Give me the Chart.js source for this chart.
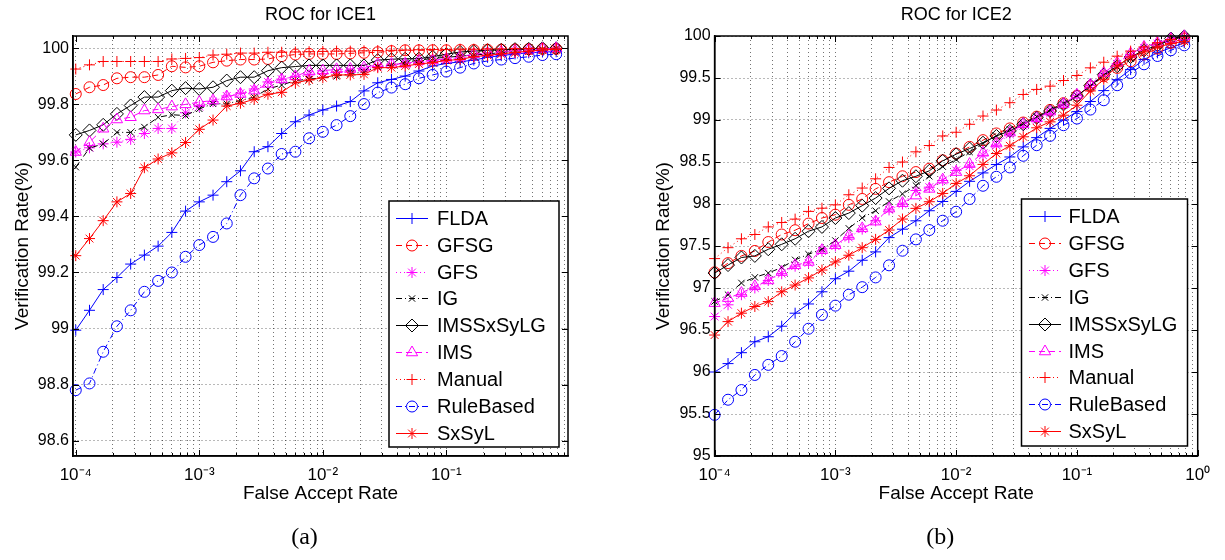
<!DOCTYPE html>
<html>
<head>
<meta charset="utf-8">
<script src="https://cdn.jsdelivr.net/npm/chart.js@4.4.1/dist/chart.umd.min.js"></script>
<style>
  html, body { margin: 0; padding: 0; background: #ffffff; }
  #wrap { position: relative; width: 1225px; height: 560px; background: #ffffff; }
  #c1 { position: absolute; left: 0; top: 0; }
  #c2 { position: absolute; left: 612px; top: 0; }
</style>
</head>
<body>
<div id="wrap">
  <canvas id="c1" width="612" height="560"></canvas>
  <canvas id="c2" width="613" height="560"></canvas>
</div>
<script>
// ---------------- data ----------------
const FAR = [
  1.000e-4, 1.292e-4, 1.668e-4, 2.154e-4, 2.783e-4, 3.594e-4, 4.642e-4, 5.995e-4, 7.743e-4,
  1.000e-3, 1.292e-3, 1.668e-3, 2.154e-3, 2.783e-3, 3.594e-3, 4.642e-3, 5.995e-3, 7.743e-3,
  1.000e-2, 1.292e-2, 1.668e-2, 2.154e-2, 2.783e-2, 3.594e-2, 4.642e-2, 5.995e-2, 7.743e-2,
  1.000e-1, 0.1292, 0.1668, 0.2154, 0.2783, 0.3594, 0.4642, 0.5995, 0.7743
];
const SERIES = ['FLDA', 'GFSG', 'GFS', 'IG', 'IMSSxSyLG', 'IMS', 'Manual', 'RuleBased', 'SxSyL'];

// ICE1
const ice1FLDA = [98.994, 99.065, 99.139, 99.182, 99.23, 99.262, 99.294, 99.343, 99.419, 99.452, 99.476, 99.524, 99.563, 99.631, 99.649, 99.696, 99.738, 99.762, 99.78, 99.794, 99.81, 99.848, 99.877, 99.889, 99.901, 99.919, 99.937, 99.946, 99.952, 99.958, 99.968, 99.974, 99.98, 99.984, 99.987, 99.988];
const ice1GFSG = [99.837, 99.861, 99.869, 99.893, 99.897, 99.897, 99.905, 99.936, 99.932, 99.936, 99.95, 99.956, 99.96, 99.96, 99.962, 99.972, 99.978, 99.98, 99.98, 99.98, 99.982, 99.984, 99.986, 99.99, 99.993, 99.993, 99.993, 99.993, 99.994, 99.994, 99.995, 99.995, 99.996, 99.997, 99.998, 99.998];
const ice1GFS = [99.63, 99.645, 99.659, 99.665, 99.675, 99.696, 99.714, 99.714, 99.77, 99.792, 99.81, 99.83, 99.84, 99.855, 99.88, 99.89, 99.9, 99.905, 99.91, 99.915, 99.92, 99.925, 99.935, 99.94, 99.945, 99.95, 99.955, 99.96, 99.965, 99.97, 99.975, 99.98, 99.985, 99.99, 99.995, 99.998];
const ice1IG = [99.576, 99.644, 99.659, 99.7, 99.7, 99.719, 99.754, 99.763, 99.76, 99.784, 99.802, 99.802, 99.814, 99.826, 99.855, 99.869, 99.885, 99.89, 99.895, 99.9, 99.91, 99.915, 99.935, 99.94, 99.95, 99.958, 99.964, 99.968, 99.972, 99.976, 99.98, 99.985, 99.99, 99.994, 99.997, 100];
const ice1IMSSxSyLG = [99.691, 99.707, 99.727, 99.766, 99.796, 99.826, 99.826, 99.849, 99.858, 99.855, 99.861, 99.885, 99.897, 99.897, 99.92, 99.931, 99.935, 99.939, 99.939, 99.939, 99.939, 99.939, 99.958, 99.961, 99.963, 99.963, 99.97, 99.979, 99.987, 99.99, 99.993, 99.995, 99.997, 99.998, 100, 100];
const ice1IMS = [99.63, 99.665, 99.713, 99.746, 99.754, 99.778, 99.782, 99.792, 99.8, 99.808, 99.814, 99.828, 99.837, 99.849, 99.873, 99.889, 99.9, 99.919, 99.92, 99.925, 99.926, 99.931, 99.943, 99.944, 99.945, 99.955, 99.957, 99.963, 99.97, 99.979, 99.984, 99.988, 99.992, 99.995, 99.998, 100];
const ice1Manual = [99.926, 99.941, 99.953, 99.953, 99.953, 99.953, 99.953, 99.962, 99.964, 99.967, 99.976, 99.979, 99.983, 99.983, 99.986, 99.986, 99.987, 99.988, 99.989, 99.99, 99.99, 99.991, 99.992, 99.993, 99.994, 99.995, 99.996, 99.996, 99.997, 99.997, 99.998, 99.998, 99.999, 99.999, 100, 100];
const ice1RuleBased = [98.78, 98.804, 98.917, 99.008, 99.065, 99.131, 99.17, 99.2, 99.256, 99.298, 99.327, 99.375, 99.476, 99.536, 99.571, 99.623, 99.631, 99.679, 99.702, 99.726, 99.758, 99.801, 99.842, 99.86, 99.872, 99.893, 99.905, 99.917, 99.931, 99.946, 99.955, 99.96, 99.965, 99.97, 99.976, 99.979];
const ice1SxSyL = [99.26, 99.321, 99.385, 99.452, 99.482, 99.574, 99.605, 99.627, 99.664, 99.711, 99.744, 99.794, 99.804, 99.818, 99.836, 99.843, 99.877, 99.887, 99.895, 99.905, 99.905, 99.907, 99.931, 99.931, 99.937, 99.944, 99.949, 99.957, 99.96, 99.97, 99.975, 99.98, 99.985, 99.99, 99.994, 99.996];

// ICE2
const ice2FLDA = [96.0, 96.1, 96.23, 96.36, 96.42, 96.545, 96.7, 96.81, 96.955, 97.11, 97.2, 97.33, 97.43, 97.6, 97.7, 97.8, 97.92, 98.03, 98.15, 98.27, 98.37, 98.47, 98.56, 98.68, 98.79, 98.9, 99.0, 99.1, 99.22, 99.35, 99.48, 99.6, 99.72, 99.8, 99.86, 99.92];
const ice2GFSG = [97.186, 97.296, 97.382, 97.441, 97.547, 97.637, 97.688, 97.767, 97.833, 97.873, 97.99, 98.06, 98.18, 98.26, 98.33, 98.38, 98.42, 98.52, 98.6, 98.68, 98.76, 98.84, 98.9, 98.97, 99.04, 99.12, 99.2, 99.29, 99.4, 99.52, 99.62, 99.7, 99.78, 99.85, 99.92, 99.97];
const ice2GFS = [96.66, 96.8, 96.92, 97.0, 97.09, 97.17, 97.26, 97.3, 97.44, 97.5, 97.6, 97.7, 97.8, 97.93, 98.0, 98.16, 98.2, 98.28, 98.4, 98.45, 98.58, 98.7, 98.83, 98.93, 99.0, 99.08, 99.18, 99.29, 99.41, 99.55, 99.67, 99.78, 99.86, 99.91, 99.96, 99.99];
const ice2IG = [96.84, 96.92, 97.06, 97.127, 97.178, 97.245, 97.335, 97.402, 97.461, 97.565, 97.71, 97.835, 97.92, 98.03, 98.12, 98.22, 98.33, 98.445, 98.53, 98.62, 98.72, 98.81, 98.89, 98.96, 99.04, 99.12, 99.2, 99.29, 99.4, 99.53, 99.63, 99.73, 99.81, 99.88, 99.96, 99.99];
const ice2IMSSxSyLG = [97.178, 97.273, 97.363, 97.382, 97.461, 97.52, 97.586, 97.676, 97.727, 97.833, 97.892, 97.98, 98.071, 98.186, 98.277, 98.33, 98.395, 98.514, 98.593, 98.66, 98.73, 98.81, 98.87, 98.95, 99.028, 99.107, 99.186, 99.285, 99.41, 99.54, 99.64, 99.75, 99.83, 99.89, 99.97, 99.995];
const ice2IMS = [96.82, 96.88, 96.94, 97.02, 97.09, 97.19, 97.27, 97.31, 97.45, 97.51, 97.62, 97.71, 97.79, 97.945, 98.01, 98.1, 98.18, 98.29, 98.38, 98.475, 98.61, 98.72, 98.85, 98.95, 99.02, 99.1, 99.19, 99.3, 99.42, 99.56, 99.68, 99.79, 99.87, 99.92, 99.965, 99.996];
const ice2Manual = [97.35, 97.48, 97.586, 97.637, 97.727, 97.78, 97.82, 97.912, 97.95, 97.99, 98.11, 98.19, 98.3, 98.435, 98.5, 98.621, 98.696, 98.81, 98.854, 98.949, 99.047, 99.119, 99.206, 99.304, 99.364, 99.403, 99.47, 99.53, 99.621, 99.688, 99.76, 99.82, 99.87, 99.92, 99.96, 99.99];
const ice2RuleBased = [95.49, 95.67, 95.785, 95.965, 96.085, 96.19, 96.36, 96.515, 96.68, 96.79, 96.92, 97.01, 97.126, 97.27, 97.444, 97.579, 97.69, 97.801, 97.908, 98.059, 98.217, 98.324, 98.435, 98.574, 98.7, 98.811, 98.938, 99.017, 99.124, 99.235, 99.414, 99.56, 99.663, 99.762, 99.83, 99.889];
const ice2SxSyL = [96.44, 96.6, 96.7, 96.78, 96.838, 96.955, 97.035, 97.12, 97.214, 97.31, 97.39, 97.48, 97.579, 97.69, 97.821, 97.948, 98.027, 98.126, 98.245, 98.336, 98.471, 98.601, 98.693, 98.8, 98.907, 98.978, 99.057, 99.176, 99.346, 99.485, 99.643, 99.75, 99.81, 99.869, 99.909, 99.937];

// axis ticks
const X_DECADES_1 = [1e-4, 1e-3, 1e-2, 1e-1];
const X_LABELS_1 = ['10\u207B\u2074', '10\u207B\u00B3', '10\u207B\u00B2', '10\u207B\u00B9'];
const X_DECADES_2 = [1e-4, 1e-3, 1e-2, 1e-1, 1];
const X_LABELS_2 = ['10\u207B\u2074', '10\u207B\u00B3', '10\u207B\u00B2', '10\u207B\u00B9', '10\u2070'];
const X_MINOR = [2, 3, 4, 5, 6, 7, 8, 9];
const Y_TICKS_1 = [98.6, 98.8, 99, 99.2, 99.4, 99.6, 99.8, 100];
const Y_LABELS_1 = ['98.6', '98.8', '99', '99.2', '99.4', '99.6', '99.8', '100'];
const Y_TICKS_2 = [95, 95.5, 96, 96.5, 97, 97.5, 98, 98.5, 99, 99.5, 100];
const Y_LABELS_2 = ['95', '95.5', '96', '96.5', '97', '97.5', '98', '98.5', '99', '99.5', '100'];

const ICE1 = [ice1FLDA, ice1GFSG, ice1GFS, ice1IG, ice1IMSSxSyLG, ice1IMS, ice1Manual, ice1RuleBased, ice1SxSyL];
const ICE2 = [ice2FLDA, ice2GFSG, ice2GFS, ice2IG, ice2IMSSxSyLG, ice2IMS, ice2Manual, ice2RuleBased, ice2SxSyL];

// ---------------- styles ----------------
const STYLE = {
  FLDA:      { color: '#0000ff', dash: [],           marker: 'cross',    r: 5.5 },
  GFSG:      { color: '#ff0000', dash: [6, 4],       marker: 'circle',   r: 5.5 },
  GFS:       { color: '#ff00ff', dash: [1, 3],       marker: 'star',     r: 5.5 },
  IG:        { color: '#000000', dash: [6, 3, 1, 3], marker: 'crossRot', r: 4.5 },
  IMSSxSyLG: { color: '#000000', dash: [],           marker: 'rectRot',  r: 6.5 },
  IMS:       { color: '#ff00ff', dash: [6, 4],       marker: 'triangle', r: 6.5 },
  Manual:    { color: '#ff0000', dash: [1, 3],       marker: 'cross',    r: 5.5 },
  RuleBased: { color: '#0000ff', dash: [6, 3, 1, 3], marker: 'circle',   r: 5.5 },
  SxSyL:     { color: '#ff0000', dash: [],           marker: 'star',     r: 5.5 }
};
const SANS = "'Liberation Sans', Arial, Helvetica, sans-serif";
const SERIF = "'Liberation Serif', 'Times New Roman', serif";

// ---------------- plugins ----------------
const framePlugin = {
  id: 'frameTicks',
  afterDatasetsDraw(chart) {
    const { ctx, chartArea: a } = chart;
    const xs = chart.scales.x, ys = chart.scales.y;
    ctx.save();
    ctx.setLineDash([]);
    ctx.strokeStyle = '#000';
    ctx.lineWidth = 1;
    ctx.beginPath();
    xs.ticks.forEach(t => {
      const px = Math.round(xs.getPixelForValue(t.value)) + 0.5;
      const len = t.label ? 6 : 3;
      ctx.moveTo(px, a.bottom); ctx.lineTo(px, a.bottom - len);
      ctx.moveTo(px, a.top); ctx.lineTo(px, a.top + len);
    });
    ys.ticks.forEach(t => {
      const py = Math.round(ys.getPixelForValue(t.value)) + 0.5;
      ctx.moveTo(a.left, py); ctx.lineTo(a.left + 6, py);
      ctx.moveTo(a.right, py); ctx.lineTo(a.right - 6, py);
    });
    ctx.stroke();
    ctx.lineWidth = 1.5;
    ctx.strokeRect(a.left, a.top, a.right - a.left, a.bottom - a.top);
    ctx.restore();
  }
};

function drawMarker(ctx, style, r, x, y) {
  if (Chart.helpers && Chart.helpers.drawPoint) {
    Chart.helpers.drawPoint(ctx, { pointStyle: style, radius: r, rotation: 0, borderWidth: 1 }, x, y);
    return;
  }
  ctx.beginPath();
  ctx.arc(x, y, r, 0, Math.PI * 2);
  ctx.stroke();
}

const legendPlugin = {
  id: 'matLegend',
  afterDraw(chart, args, o) {
    const ctx = chart.ctx;
    ctx.save();
    ctx.setLineDash([]);
    ctx.fillStyle = '#fff';
    ctx.fillRect(o.x, o.y, o.w, o.h);
    ctx.lineWidth = 1.5;
    ctx.strokeStyle = '#000';
    ctx.strokeRect(o.x, o.y, o.w, o.h);
    chart.data.datasets.forEach((ds, i) => {
      const y = Math.round(o.row0 + i * o.step) + 0.5;
      ctx.strokeStyle = ds.borderColor;
      ctx.lineWidth = 1;
      ctx.setLineDash(ds.borderDash || []);
      ctx.beginPath();
      ctx.moveTo(o.lx0, y); ctx.lineTo(o.lx1, y);
      ctx.stroke();
      ctx.setLineDash([]);
      ctx.fillStyle = 'rgba(0,0,0,0)';
      ctx.strokeStyle = ds.borderColor;
      drawMarker(ctx, ds.pointStyle, ds.pointRadius, o.mx, y);
      ctx.fillStyle = '#000';
      ctx.font = '20px ' + SANS;
      ctx.textBaseline = 'middle';
      ctx.textAlign = 'left';
      ctx.fillText(ds.label, o.tx, y + 1);
    });
    ctx.restore();
  }
};

const textPlugin = {
  id: 'matTexts',
  afterDraw(chart, args, o) {
    const { ctx, chartArea: a } = chart;
    ctx.save();
    ctx.fillStyle = '#000';
    ctx.textAlign = 'center';
    ctx.textBaseline = 'middle';
    ctx.font = '18px ' + SANS;
    ctx.fillText(o.title, (a.left + a.right) / 2, o.titleY);
    ctx.font = '24px ' + SERIF;
    ctx.fillText(o.caption, (a.left + a.right) / 2 + o.captionDx, o.captionY);
    ctx.restore();
  }
};

// ---------------- builder ----------------
function xGridValues(decades, max) {
  const out = [];
  decades.forEach(d => {
    out.push(d);
    X_MINOR.forEach(m => { if (m * d <= max * 1.0000001) out.push(m * d); });
  });
  return out;
}

function makeChart(id, values, cfg) {
  const datasets = SERIES.map((name, i) => {
    const s = STYLE[name];
    return {
      label: name,
      data: FAR.map((x, k) => ({ x: x, y: values[i][k] })),
      borderColor: s.color,
      backgroundColor: 'rgba(0,0,0,0)',
      borderWidth: 1,
      borderDash: s.dash,
      pointStyle: s.marker,
      pointRadius: s.r,
      pointBorderWidth: 1,
      pointBorderColor: s.color,
      pointBackgroundColor: 'rgba(0,0,0,0)',
      tension: 0,
      fill: false,
      clip: false,
      order: SERIES.length - 1 - i
    };
  });
  const xTicks = xGridValues(cfg.xDecades, cfg.xMax);
  return new Chart(document.getElementById(id), {
    type: 'line',
    data: { datasets: datasets },
    plugins: [framePlugin, legendPlugin, textPlugin],
    options: {
      responsive: false,
      animation: false,
      devicePixelRatio: 1,
      events: [],
      layout: { padding: { left: cfg.padLeft, right: cfg.padRight, top: 36, bottom: 0 } },
      plugins: {
        legend: { display: false },
        tooltip: { enabled: false },
        title: { display: false },
        matLegend: cfg.legend,
        matTexts: cfg.texts
      },
      scales: {
        x: {
          type: 'logarithmic',
          min: cfg.xMin,
          max: cfg.xMax,
          afterBuildTicks: (s) => { s.ticks = xTicks.map(v => ({ value: v })); },
          afterFit: (s) => { s.height = 104; },
          ticks: {
            autoSkip: false,
            maxRotation: 0,
            minRotation: 0,
            padding: 9,
            color: '#000',
            font: { family: SANS, size: 17 },
            callback: (v) => {
              const k = cfg.xDecades.findIndex(d => Math.abs(d - v) / d < 1e-6);
              return k >= 0 ? cfg.xLabels[k] : '';
            }
          },
          grid: { color: 'rgba(0,0,0,0.55)', lineWidth: 1, drawTicks: false },
          border: { display: true, color: '#000', width: 1.5, dash: [1, 3] },
          title: {
            display: true,
            text: 'False Accept Rate',
            color: '#000',
            font: { family: SANS, size: 19 },
            padding: { top: 0, bottom: 55 }
          }
        },
        y: {
          type: 'linear',
          min: cfg.yMin,
          max: cfg.yMax,
          afterBuildTicks: (s) => { s.ticks = cfg.yTicks.map(v => ({ value: v })); },
          afterFit: (s) => { s.width = 62; },
          ticks: {
            autoSkip: false,
            padding: 4,
            color: '#000',
            font: { family: SANS, size: 16 },
            callback: (v, idx) => cfg.yLabels[idx]
          },
          grid: { color: 'rgba(0,0,0,0.55)', lineWidth: 1, drawTicks: false },
          border: { display: true, color: '#000', width: 1.5, dash: [1, 3] },
          title: {
            display: true,
            text: 'Verification Rate(%)',
            color: '#000',
            font: { family: SANS, size: 19 },
            padding: { top: 0, bottom: 0 }
          }
        }
      }
    }
  });
}

makeChart('c1', ICE1, {
  padLeft: 11, padRight: 44,
  xMin: 0.95e-4, xMax: 0.965, xDecades: X_DECADES_1, xLabels: X_LABELS_1,
  yMin: 98.545, yMax: 100.044, yTicks: Y_TICKS_1, yLabels: Y_LABELS_1,
  legend: { x: 389, y: 201, w: 170, h: 246, row0: 217.7, step: 26.9, lx0: 396, lx1: 428, mx: 412, tx: 437 },
  texts: { title: 'ROC for ICE1', titleY: 15, caption: '(a)', captionDx: -16, captionY: 538 }
});

makeChart('c2', ICE2, {
  padLeft: 40.6, padRight: 27.3,
  xMin: 1e-4, xMax: 1, xDecades: X_DECADES_2, xLabels: X_LABELS_2,
  yMin: 95, yMax: 100, yTicks: Y_TICKS_2, yLabels: Y_LABELS_2,
  legend: { x: 409.5, y: 199, w: 166, h: 247, row0: 216, step: 26.9, lx0: 417, lx1: 449, mx: 433, tx: 456.5 },
  texts: { title: 'ROC for ICE2', titleY: 15, caption: '(b)', captionDx: -16, captionY: 538 }
});
</script>
</body>
</html>
